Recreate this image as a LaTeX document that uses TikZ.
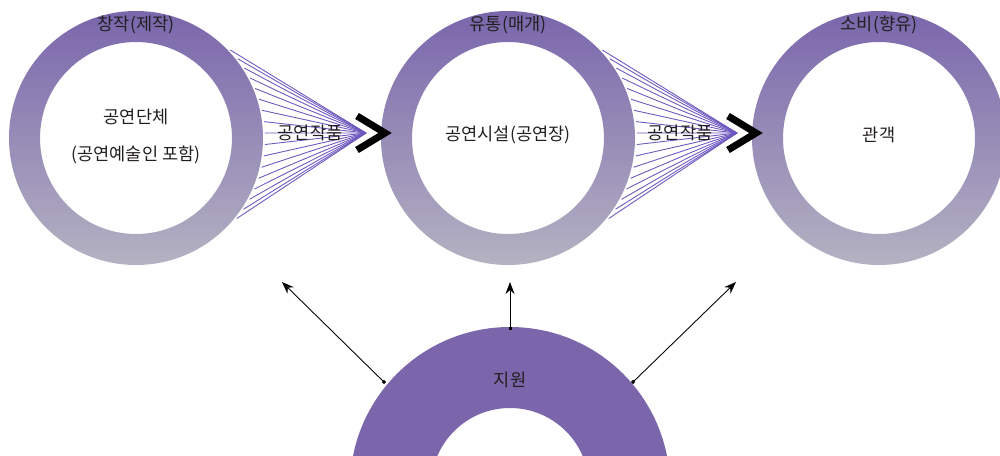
\documentclass[tikz,border=0pt]{standalone}
\usepackage{fontspec}
\setmainfont{Noto Sans CJK KR}
\usetikzlibrary{arrows.meta}

% Colours of the rings, lines and text
\definecolor{ringtop}{RGB}{122,102,172}
\definecolor{ringbot}{RGB}{180,178,194}
\definecolor{fanline}{RGB}{108,88,190}
\definecolor{support}{RGB}{123,102,172}
\definecolor{txt}{RGB}{35,31,32}

\tikzset{
  ringlabel/.style={font=\fontsize{10}{12}\selectfont, text=txt, inner sep=0pt},
  fan/.style={fanline, line width=0.5pt},
  chevron/.style={black, line width=0.14cm, miter limit=10},
  supportarrow/.style={black, line width=0.5pt, {Square[length=0.6mm,width=0.6mm]}-{Stealth[length=2.4mm,width=1.8mm]}},
}

\begin{document}
\begin{tikzpicture}[x=0.2mm,y=-0.2mm]
\useasboundingbox (0,0) rectangle (1000,455);
\clip (0,0) rectangle (1000,455);

% Centres of the three rings
\coordinate (make) at (136,138);
\coordinate (flow) at (508,138);
\coordinate (use) at (879,138);

% Shading the three rings
\foreach \ring in {make,flow,use}
  \shade[top color=ringtop, bottom color=ringbot, even odd rule] (\ring) circle (2.54cm) (\ring) circle (1.92cm);

% Drawing the fans of lines
\coordinate (apexA) at (366,133);
\coordinate (apexB) at (737,133);
\foreach \i in {0,...,16} {
  \pgfmathsetmacro\ang{43-\i*5.1}
  \draw[fan] ([shift={(\ang:2.58cm)}]make) -- (apexA);
  \draw[fan] ([shift={(\ang:2.58cm)}]flow) -- (apexB);
}

% Drawing the chevrons
\draw[chevron] (357,116) -- (385,133) -- (357,150);
\draw[chevron] (728,116) -- (756,133) -- (728,150);

% Filling the support ring
\coordinate (help) at (510,487);
\fill[support, even odd rule] (help) circle (3.2cm) (help) circle (1.58cm);

% Labels
\node[ringlabel] (makeT) at (136,25) {창작(제작)};
\node[ringlabel] (flowT) at (508,25) {유통(매개)};
\node[ringlabel] (useT) at (879,25) {소비(향유)};
\node[ringlabel] (group) at (136,117) {공연단체};
\node[ringlabel] (groupsub) at (136,155) {(공연예술인 포함)};
\node[ringlabel] (hall) at (508,135) {공연시설(공연장)};
\node[ringlabel] (crowd) at (879,135) {관객};
\node[ringlabel] (workA) at (310,133) {공연작품};
\node[ringlabel] (workB) at (680,133) {공연작품};
\node[ringlabel] (helpT) at (510,380) {지원};

% Drawing the support arrows
\coordinate (fromL) at (385,383);
\coordinate (fromM) at (510,330);
\coordinate (fromR) at (632,383);
\coordinate (toL) at (282,282);
\coordinate (toM) at (510,282);
\coordinate (toR) at (736,282);
\draw[supportarrow] (fromL) -- (toL);
\draw[supportarrow] (fromM) -- (toM);
\draw[supportarrow] (fromR) -- (toR);
\end{tikzpicture}
\end{document}
